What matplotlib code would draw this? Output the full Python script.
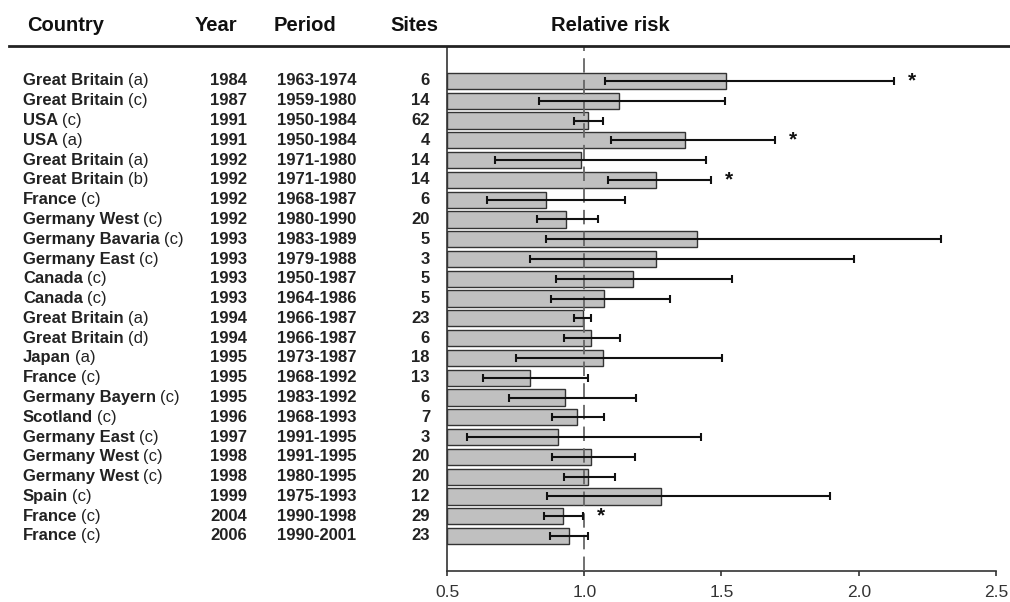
import matplotlib
matplotlib.use('Agg')
import matplotlib.pyplot as plt
import matplotlib.transforms as mtransforms
from matplotlib.lines import Line2D
import numpy as np

plt.rcParams['font.family'] = ['Liberation Sans', 'DejaVu Sans']

# table data, top to bottom
countries = ['Great Britain', 'Great Britain', 'USA', 'USA', 'Great Britain',
             'Great Britain', 'France', 'Germany West', 'Germany Bavaria',
             'Germany East', 'Canada', 'Canada', 'Great Britain', 'Great Britain',
             'Japan', 'France', 'Germany Bayern', 'Scotland', 'Germany East',
             'Germany West', 'Germany West', 'Spain', 'France', 'France']
notes = ['(a)', '(c)', '(c)', '(a)', '(a)', '(b)', '(c)', '(c)', '(c)', '(c)',
         '(c)', '(c)', '(a)', '(d)', '(a)', '(c)', '(c)', '(c)', '(c)', '(c)',
         '(c)', '(c)', '(c)', '(c)']
years = ['1984', '1987', '1991', '1991', '1992', '1992', '1992', '1992', '1993',
         '1993', '1993', '1993', '1994', '1994', '1995', '1995', '1995', '1996',
         '1997', '1998', '1998', '1999', '2004', '2006']
periods = ['1963-1974', '1959-1980', '1950-1984', '1950-1984', '1971-1980',
           '1971-1980', '1968-1987', '1980-1990', '1983-1989', '1979-1988',
           '1950-1987', '1964-1986', '1966-1987', '1966-1987', '1973-1987',
           '1968-1992', '1983-1992', '1968-1993', '1991-1995', '1991-1995',
           '1980-1995', '1975-1993', '1990-1998', '1990-2001']
sites = ['6', '14', '62', '4', '14', '14', '6', '20', '5', '3', '5', '5', '23',
         '6', '18', '13', '6', '7', '3', '20', '20', '12', '29', '23']

# relative risk with confidence interval
rr = [1.516, 1.128, 1.012, 1.367, 0.988, 1.261, 0.862, 0.932, 1.409, 1.262,
      1.176, 1.073, 0.995, 1.026, 1.067, 0.803, 0.931, 0.974, 0.906, 1.023,
      1.012, 1.281, 0.922, 0.945]
ci_low = [1.076, 0.835, 0.961, 1.098, 0.676, 1.085, 0.646, 0.826, 0.860, 0.804,
          0.898, 0.877, 0.961, 0.927, 0.753, 0.631, 0.727, 0.883, 0.574, 0.883,
          0.926, 0.863, 0.852, 0.876]
ci_high = [2.127, 1.513, 1.067, 1.696, 1.443, 1.463, 1.149, 1.050, 2.300, 1.983,
           1.537, 1.313, 1.026, 1.129, 1.501, 1.014, 1.187, 1.073, 1.426, 1.184,
           1.112, 1.896, 0.996, 1.015]
significant = [True, False, False, True, False, True, False, False, False, False,
               False, False, False, False, False, False, False, False, False, False,
               False, False, True, False]

x_ticks = [0.5, 1.0, 1.5, 2.0, 2.5]

fig = plt.figure(figsize=(10.1, 6.02), dpi=100)
ax = fig.add_axes([0.4426, 0.0515, 0.5435, 0.8705])

rr = np.array(rr)
low = np.array(ci_low)
high = np.array(ci_high)
pos = np.arange(len(rr))

# bars start at 0.5 (axis origin)
ax.barh(pos, rr - 0.5, left=0.5, height=0.82, color='#c0c0c0',
        edgecolor='#333333', linewidth=1.0, zorder=2)
ax.axvline(1.0, color='#666666', linewidth=1.3, dashes=(8, 4), zorder=3)
ax.errorbar(rr, pos, xerr=[rr - low, high - rr], fmt='none', ecolor='#111111',
            elinewidth=1.5, capsize=3, capthick=1.5, zorder=4)

for i in range(len(rr)):
    if significant[i]:
        ax.annotate('*', xy=(high[i], pos[i]), xytext=(10, 0),
                    textcoords='offset points', ha='left', va='center',
                    fontsize=15, fontweight='bold', color='#111111')

ax.set_xlim(0.5, 2.5)
ax.set_ylim(len(rr) - 1 + 1.77, -1.72)
ax.set_xticks(x_ticks)
ax.set_xticklabels(['%.1f' % t for t in x_ticks], fontsize=12.5)
ax.set_yticks([])
ax.tick_params(axis='x', direction='out', length=3.5, width=1.2, colors='#333333',
               labelcolor='#333333', pad=6.5)
for s in ['top', 'right']:
    ax.spines[s].set_visible(False)
for s in ['left', 'bottom']:
    ax.spines[s].set_linewidth(1.2)
    ax.spines[s].set_color('#333333')

# table columns to the left of the axes
trans = mtransforms.blended_transform_factory(fig.transFigure, ax.transData)
fs = 12
renderer = fig.canvas.get_renderer()
for i in range(len(rr)):
    t = ax.text(23 / 1010, pos[i], countries[i], transform=trans, ha='left',
                va='center', fontsize=fs, fontweight='bold', color='#222222')
    bb = t.get_window_extent(renderer=renderer)
    ax.text(bb.x1 / fig.bbox.width + 4 / 1010, pos[i], notes[i], transform=trans,
            ha='left', va='center', fontsize=fs, color='#222222')
    ax.text(210 / 1010, pos[i], years[i], transform=trans, ha='left',
            va='center', fontsize=fs, fontweight='bold', color='#222222')
    ax.text(277 / 1010, pos[i], periods[i], transform=trans, ha='left',
            va='center', fontsize=fs, fontweight='bold', color='#222222')
    ax.text(430 / 1010, pos[i], sites[i], transform=trans, ha='right',
            va='center', fontsize=fs, fontweight='bold', color='#222222')

# header row
head_y = 1 - 31 / 602
for label, hx in [('Country', 27), ('Year', 195), ('Period', 274),
                  ('Sites', 390), ('Relative risk', 551)]:
    fig.text(hx / 1010, head_y, label, ha='left', va='baseline', fontsize=14.5,
             fontweight='bold', color='#111111')

fig.add_artist(Line2D([9 / 1010, 1.0], [1 - 45.5 / 602, 1 - 45.5 / 602],
                      transform=fig.transFigure, color='#222222', linewidth=2.0))

fig.savefig('out.png', dpi=100)
